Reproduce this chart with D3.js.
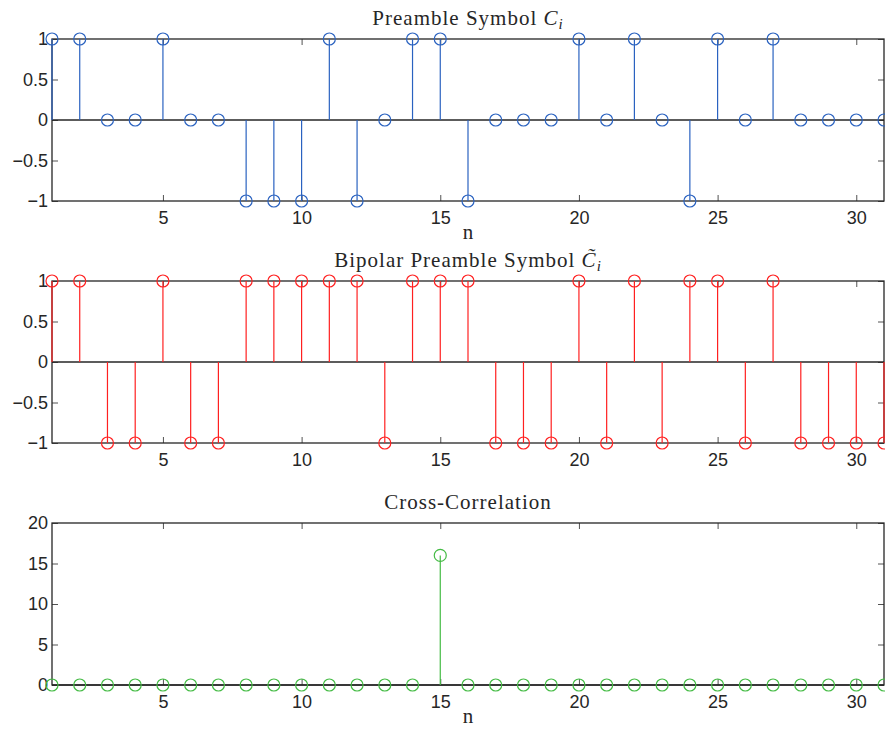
<!DOCTYPE html>
<html>
<head>
<meta charset="utf-8">
<script src="https://cdn.jsdelivr.net/npm/d3@7"></script>
<style>
  body { margin: 0; background: #fff; }
  svg { display: block; }
</style>
</head>
<body>
<svg id="chart" width="885" height="729"></svg>
<script>
'use strict';
const N = d3.range(1, 32);
const PREAMBLE = [1, 1, 0, 0, 1, 0, 0, -1, -1, -1, 1, -1, 0, 1, 1, -1, 0, 0, 0, 1, 0, 1, 0, -1, 1, 0, 1, 0, 0, 0, 0];
const BIPOLAR = [1, 1, -1, -1, 1, -1, -1, 1, 1, 1, 1, 1, -1, 1, 1, 1, -1, -1, -1, 1, -1, 1, -1, 1, 1, -1, 1, -1, -1, -1, -1];
const XCORR = [0, 0, 0, 0, 0, 0, 0, 0, 0, 0, 0, 0, 0, 0, 16, 0, 0, 0, 0, 0, 0, 0, 0, 0, 0, 0, 0, 0, 0, 0, 0];
const X_TICKS = [5, 10, 15, 20, 25, 30];
const Y_TICKS_SYM = [-1, -0.5, 0, 0.5, 1];
const Y_TICKS_CORR = [0, 5, 10, 15, 20];

const SANS = "'Liberation Sans', Arial, sans-serif";
const SERIF = "'Liberation Serif', 'Times New Roman', serif";
const INK = '#262626';

const svg = d3.select('#chart');
const left = 52, right = 884;

let x = d3.scaleLinear().domain([1, 31]).range([left, right]);

let panels = [
  { values: PREAMBLE, color: '#2a62c0', top: 39, bottom: 201, domain: [-1, 1], ticks: Y_TICKS_SYM, title: 'preamble', xlabel: true },
  { values: BIPOLAR, color: '#ff2020', top: 281, bottom: 443, domain: [-1, 1], ticks: Y_TICKS_SYM, title: 'bipolar', xlabel: false },
  { values: XCORR, color: '#44bb44', top: 523, bottom: 685, domain: [0, 20], ticks: Y_TICKS_CORR, title: 'Cross-Correlation', xlabel: true },
];

panels.forEach(drawPanel);

function fmt(v) {
  return v < 0 ? '\u2212' + Math.abs(v) : String(v);
}

function drawPanel(p) {
  let y = d3.scaleLinear().domain(p.domain).range([p.bottom, p.top]);
  let g = svg.append('g');
  let h = p.bottom - p.top;
  let w = right - left;

  // inward ticks on all four sides
  let styleAxis = (a) =>
    a
      .call((s) => s.select('.domain').remove())
      .call((s) => s.selectAll('.tick line').attr('stroke', INK).attr('stroke-width', 0.8))
      .call((s) =>
        s.selectAll('.tick text')
          .attr('fill', INK)
          .style('font-family', SANS)
          .style('font-size', '18px')
      );

  g.append('g')
    .attr('transform', `translate(0,${p.bottom})`)
    .call(d3.axisBottom(x).tickValues(X_TICKS).tickSize(-6).tickPadding(10).tickFormat(fmt))
    .call(styleAxis);
  g.append('g')
    .attr('transform', `translate(0,${p.top})`)
    .call(d3.axisTop(x).tickValues(X_TICKS).tickSize(-6).tickFormat(''))
    .call(styleAxis);
  g.append('g')
    .attr('transform', `translate(${left},0)`)
    .call(d3.axisLeft(y).tickValues(p.ticks).tickSize(-6).tickPadding(4).tickFormat(fmt))
    .call(styleAxis);
  g.append('g')
    .attr('transform', `translate(${right},0)`)
    .call(d3.axisRight(y).tickValues(p.ticks).tickSize(-6).tickFormat(''))
    .call(styleAxis);

  // box
  g.append('rect')
    .attr('x', left)
    .attr('y', p.top)
    .attr('width', w)
    .attr('height', h)
    .attr('fill', 'none')
    .attr('stroke', INK)
    .attr('stroke-width', 1.3);

  // baseline
  g.append('line')
    .attr('x1', left)
    .attr('x2', right)
    .attr('y1', y(0))
    .attr('y2', y(0))
    .attr('stroke', INK)
    .attr('stroke-width', 1.3);

  let pts = N.map((n, i) => ({ n, v: p.values[i] }));

  g.append('g')
    .selectAll('line')
    .data(pts.filter((d) => d.v !== 0))
    .enter()
    .append('line')
    .attr('x1', (d) => x(d.n))
    .attr('x2', (d) => x(d.n))
    .attr('y1', y(0))
    .attr('y2', (d) => y(d.v))
    .attr('stroke', p.color)
    .attr('stroke-width', 1.2);

  g.append('g')
    .selectAll('circle')
    .data(pts)
    .enter()
    .append('circle')
    .attr('cx', (d) => x(d.n))
    .attr('cy', (d) => y(d.v))
    .attr('r', 6)
    .attr('fill', 'none')
    .attr('stroke', p.color)
    .attr('stroke-width', 1.2);

  // title
  let cx = (left + right) / 2;
  let t = svg.append('text')
    .attr('x', cx)
    .attr('y', p.top - 14)
    .attr('text-anchor', 'middle')
    .attr('fill', INK)
    .style('font-family', SERIF)
    .style('font-size', '21px')
    .style('letter-spacing', '1px');
  if (p.title === 'preamble') {
    t.append('tspan').text('Preamble Symbol ');
    t.append('tspan').attr('font-style', 'italic').text('C');
    t.append('tspan').attr('font-style', 'italic').attr('font-size', 15).attr('dy', 4).text('i');
  } else if (p.title === 'bipolar') {
    t.append('tspan').text('Bipolar Preamble Symbol ');
    t.append('tspan').attr('font-style', 'italic').text('C\u0303');
    t.append('tspan').attr('font-style', 'italic').attr('font-size', 15).attr('dy', 4).text('i');
  } else {
    t.text(p.title);
  }

  if (p.xlabel) {
    svg.append('text')
      .attr('x', cx)
      .attr('y', p.bottom + 38)
      .attr('text-anchor', 'middle')
      .attr('fill', INK)
      .style('font-family', SERIF)
      .style('font-size', '21px')
      .text('n');
  }
}
</script>
</body>
</html>
